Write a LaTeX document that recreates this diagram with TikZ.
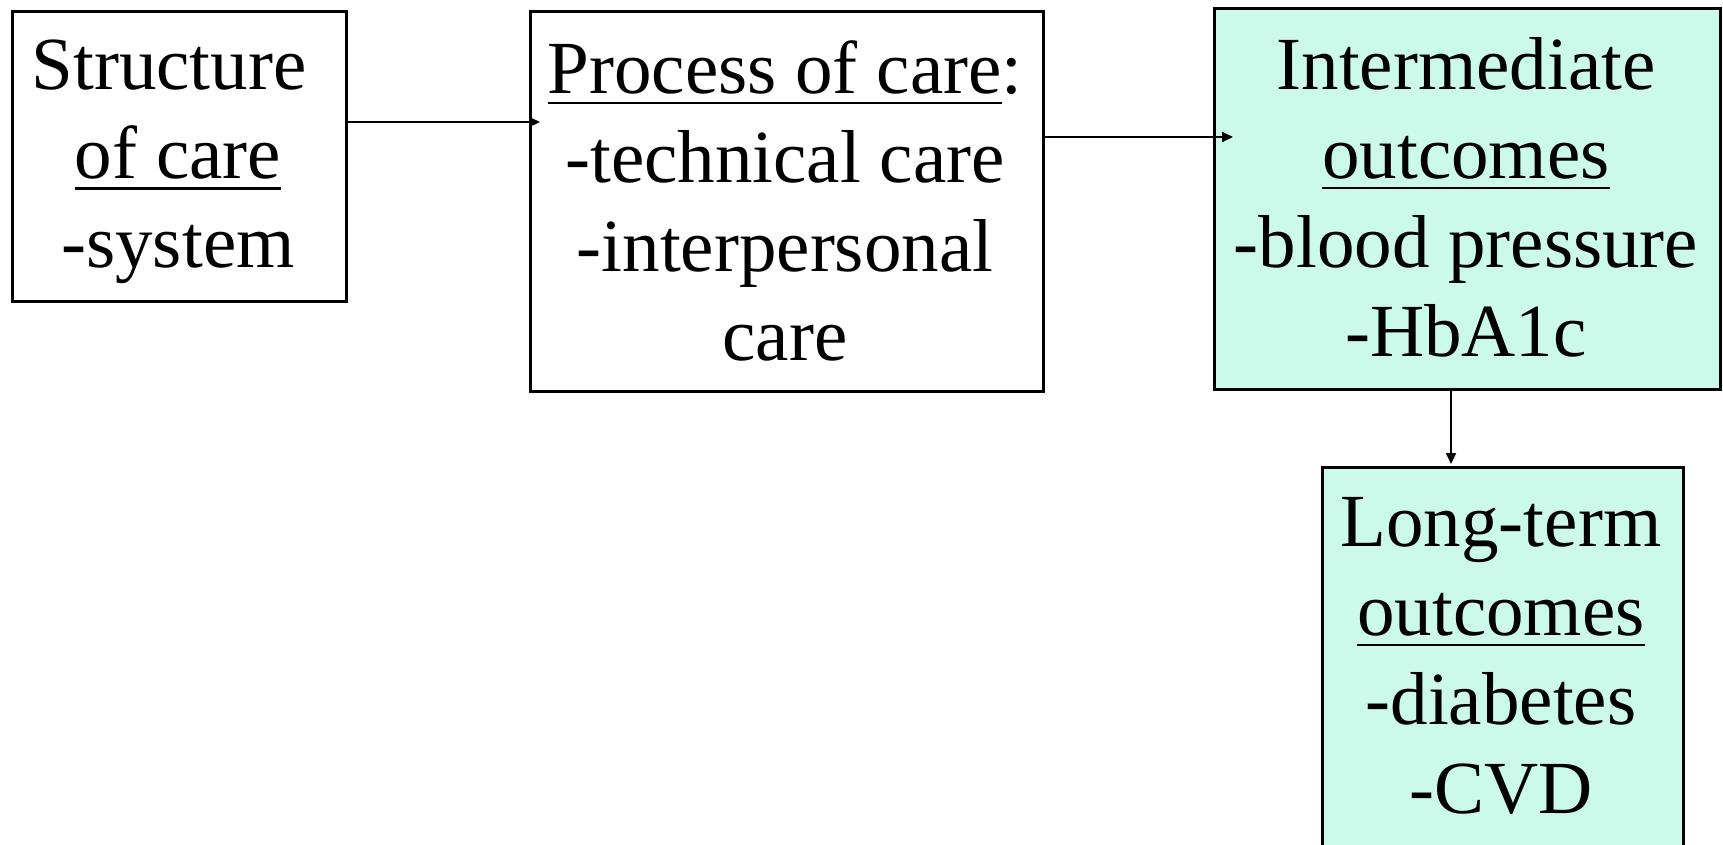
\documentclass[tikz,border=0pt]{standalone}
\usepackage{fontspec}
\setmainfont{Liberation Serif}
\usetikzlibrary{arrows.meta}
\definecolor{outfill}{RGB}{204,250,234}
% underline drawn a fixed distance below the baseline
\newcommand{\ulword}[1]{\setbox0\hbox{#1}\rlap{\rule[-11pt]{\wd0}{2.5pt}}\box0}
\begin{document}
\begin{tikzpicture}[x=1pt,y=-1pt,
  box/.style={draw=black, line width=2.5pt, inner sep=0pt, anchor=north west},
  outbox/.style={box, fill=outfill},
  boxtext/.style={anchor=north, align=center, inner sep=0pt, font=\fontsize{75}{89}\selectfont},
  link/.style={line width=2pt, -{Triangle[length=11pt,width=10pt]}}]
\useasboundingbox[fill=white] (0,0) rectangle (1723,844);

% boxes
\node[box, minimum width=334pt, minimum height=290pt] (structure) at (11,10) {};
\node[box, minimum width=513pt, minimum height=380pt] (process) at (529,10) {};
\node[outbox, minimum width=506pt, minimum height=381pt] (intermediate) at (1213,7) {};
\node[outbox, minimum width=361pt, minimum height=420pt] (longterm) at (1321,466) {};

% texts
\node[boxtext] (structuretext) at (178,40) {Structure\kern18pt\\\ulword{of care}\\-system};
\node[boxtext] (processtext) at (785,40) {\ulword{Process of care}:\\-technical care\\-interpersonal\\care};
\node[boxtext] (intermediatetext) at (1466,37) {Intermediate\\\ulword{outcomes}\\-blood pressure\\-HbA1c};
\node[boxtext] (longtermtext) at (1501,497) {Long-term\\\ulword{outcomes}\\-diabetes\\-CVD};

% connectors
\coordinate (a1end) at (540,122);
\coordinate (a2end) at (1233,137);
\coordinate (a3end) at (1451,464);
\draw[link] (structure.north east |- a1end) -- (a1end);
\draw[link] (process.north east |- a2end) -- (a2end);
\draw[link] (intermediate.south -| a3end) -- (a3end);
\end{tikzpicture}
\end{document}
